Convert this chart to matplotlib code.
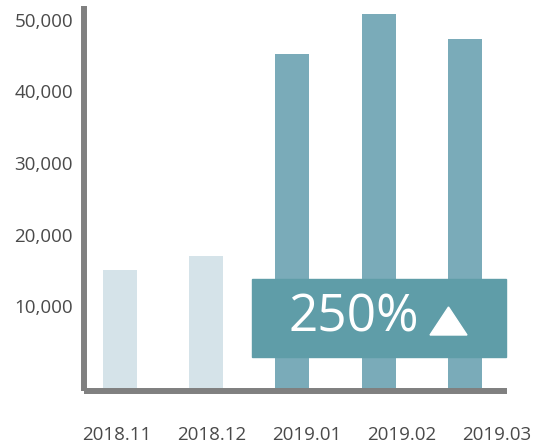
import matplotlib.pyplot as plt
from matplotlib.patches import Rectangle, Polygon
import numpy as np

# data
months = ['2018.11', '2018.12', '2019.01', '2019.02', '2019.03']
sales = [15000, 17000, 45200, 50800, 47300]
highlight = [False, False, True, True, True]
y_ticks = [10000, 20000, 30000, 40000, 50000]
growth_label = '250%'

light_color = '#d5e3e9'
dark_color = '#7aabb9'
box_color = '#5f9da8'
axis_color = '#808080'
text_color = '#4a4a4a'

plt.rcParams['font.family'] = ['Open Sans', 'DejaVu Sans']

fig = plt.figure(figsize=(5.39, 4.47), dpi=100)
W, H = 539, 447
# axes placed in pixel terms: left 83.5, right 507, top 6, bottom 391
ax = fig.add_axes([83.5 / W, (H - 391) / H, (507 - 83.5) / W, (391 - 6) / H])

y_min, y_max = -1888, 51958
x = np.arange(len(months))
colors = [dark_color if h else light_color for h in highlight]
heights = np.array(sales) - y_min
ax.bar(x, heights, bottom=y_min, width=0.394, color=colors, zorder=1)

ax.set_xlim(-0.423, 4.487)
ax.set_ylim(y_min, y_max)

for side in ['top', 'right']:
    ax.spines[side].set_visible(False)
for side in ['left', 'bottom']:
    ax.spines[side].set_color(axis_color)
    ax.spines[side].set_linewidth(4.3)
    ax.spines[side].set_zorder(3)
    ax.spines[side].set_capstyle('butt')

ax.set_yticks(y_ticks)
ax.set_yticklabels([f'{v:,}' for v in y_ticks])
# month labels sit on their own spacing, wider than the bars
ax.set_xticks(x * 1.1015 - 0.038)
ax.set_xticklabels(months)
ax.tick_params(axis='y', length=0, pad=7.5, labelsize=13.5, labelcolor=text_color)
ax.tick_params(axis='x', length=0, pad=25, labelsize=13.5, labelcolor=text_color)

# growth badge (pixel coords, top-left origin)
def fx(px):
    return px / W

def fy(py):
    return (H - py) / H

bx0, bx1, by0, by1 = 252, 506, 279, 357
fig.patches.append(Rectangle((fx(bx0), fy(by1)), (bx1 - bx0) / W, (by1 - by0) / H,
                             transform=fig.transFigure, color=box_color, zorder=5))
fig.text(fx(354), fy(318), growth_label, color='white', fontsize=37,
         ha='center', va='center', zorder=6)
fig.patches.append(Polygon([(fx(430), fy(335)), (fx(467), fy(335)), (fx(448.5), fy(307))],
                           closed=True, transform=fig.transFigure, color='white', zorder=6))

fig.savefig('out.png', dpi=100)
